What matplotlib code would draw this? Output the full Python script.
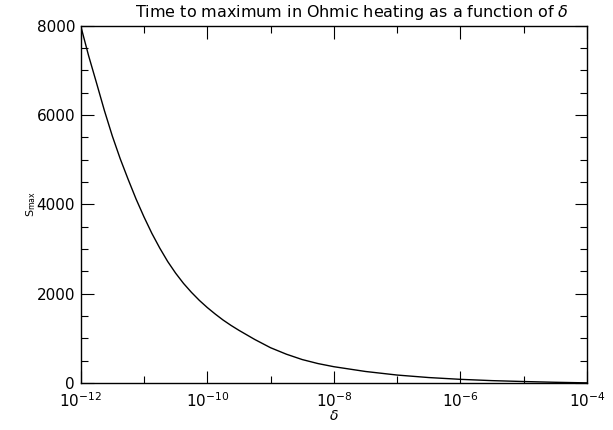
import numpy as np
import matplotlib

matplotlib.use("Agg")

import matplotlib.pyplot as plt
import matplotlib.transforms as mtransforms
from matplotlib.ticker import MultipleLocator, FixedLocator, NullFormatter

# log10(delta) and time to maximum
log_delta = [-12.0, -11.875, -11.75, -11.625, -11.5, -11.375, -11.25, -11.125,
             -11.0, -10.875, -10.75, -10.625, -10.5, -10.375, -10.25, -10.125,
             -10.0, -9.875, -9.75, -9.625, -9.5, -9.25, -9.0, -8.75, -8.5, -8.25,
             -8.0, -7.5, -7.0, -6.5, -6.0, -5.5, -5.0, -4.5, -4.0]
s_max = [8000, 7330, 6720, 6100, 5530, 5020, 4560, 4120,
         3720, 3350, 3020, 2720, 2460, 2230, 2030, 1850,
         1690, 1545, 1410, 1290, 1180, 975, 790, 645, 525, 435,
         365, 258, 178, 122, 82, 53, 33, 16, 3]

delta = 10.0 ** np.array(log_delta)

plt.rcParams["font.family"] = ["DejaVu Sans"]

fig = plt.figure(figsize=(6.13, 4.30), dpi=100)
ax = fig.add_axes([0.1316, 0.1093, 0.9576 - 0.1316, 0.9402 - 0.1093])

ax.plot(delta, s_max, color="black", lw=1.0)

ax.set_xscale("log")
ax.set_xlim(1e-12, 1e-4)
ax.set_ylim(0, 8000)

ax.xaxis.set_major_locator(FixedLocator([1e-12, 1e-10, 1e-8, 1e-6, 1e-4]))
ax.xaxis.set_minor_locator(FixedLocator([1e-11, 1e-9, 1e-7, 1e-5]))
ax.xaxis.set_minor_formatter(NullFormatter())
ax.set_xticklabels([r"10$^{-12}$", r"10$^{-10}$", r"10$^{-8}$", r"10$^{-6}$", r"10$^{-4}$"])

ax.yaxis.set_major_locator(MultipleLocator(2000))
ax.yaxis.set_minor_locator(MultipleLocator(500))

ax.tick_params(which="both", direction="in", top=True, right=True, width=0.8,
               labelsize=11, colors="black")
ax.tick_params(which="major", length=9)
ax.tick_params(which="minor", length=5)
ax.tick_params(axis="x", pad=6)
ax.tick_params(axis="y", pad=4)

for s in ax.spines.values():
    s.set_linewidth(1.0)

ax.set_title(r"Time to maximum in Ohmic heating as a function of $\delta$",
             fontsize=11.5, pad=6, x=0.536)
ax.set_xlabel(r"$\delta$", fontsize=10, labelpad=-1)
ax.set_ylabel(r"S$_{\mathrm{max}}$", fontsize=8, labelpad=-1)

# the "0" label sits a little above the x axis, as in the reference
fig.canvas.draw()
zero_label = ax.get_yticklabels()[0]
zero_label.set_transform(zero_label.get_transform() +
                         mtransforms.ScaledTranslation(0, 4 / 72, fig.dpi_scale_trans))

fig.savefig("out.png", dpi=100)
